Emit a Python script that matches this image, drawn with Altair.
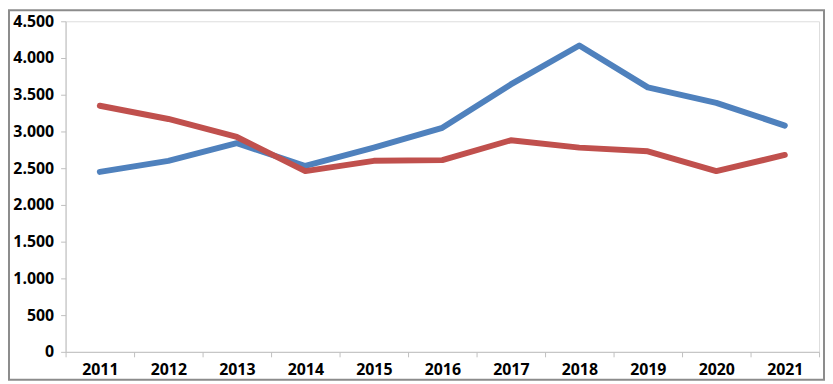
import altair as alt
import pandas as pd

years = ["2011", "2012", "2013", "2014", "2015", "2016", "2017", "2018", "2019", "2020", "2021"]
blue_values = [2450, 2600, 2840, 2530, 2780, 3050, 3640, 4170, 3600, 3390, 3080]
red_values = [3350, 3170, 2925, 2460, 2600, 2610, 2880, 2780, 2730, 2460, 2680]
series_names = ["Serie 1", "Serie 2"]
series_colors = ["#4F81BD", "#C0504D"]

rows = []
for name, vals in zip(series_names, [blue_values, red_values]):
    for y, v in zip(years, vals):
        rows.append({"year": y, "value": v, "series": name, "order": series_names.index(name)})
df = pd.DataFrame(rows)

W, H = 759, 333
PAD_L, PAD_T, PAD_R, PAD_B = 58, 12, 6, 29

lines = alt.Chart(df).mark_line(strokeWidth=6, strokeCap="round", strokeJoin="round").encode(
    x=alt.X("year:O", sort=years, title=None,
            scale=alt.Scale(type="band", paddingInner=0, paddingOuter=0),
            axis=alt.Axis(labelAngle=0, tickBand="extent", tickSize=5, tickColor="#BFBFBF",
                          domainColor="#BFBFBF", labelFont="Open Sans", labelFontWeight="bold",
                          labelFontSize=16, labelColor="#000000", labelPadding=5)),
    y=alt.Y("value:Q", title=None,
            scale=alt.Scale(domain=[0, 4500], nice=False),
            axis=alt.Axis(values=list(range(0, 4501, 500)), grid=False, tickSize=5,
                          tickColor="#BFBFBF", domainColor="#BFBFBF",
                          labelExpr="replace(format(datum.value, ','), ',', '.')",
                          labelFont="Open Sans", labelFontWeight="bold", labelFontSize=16,
                          labelColor="#000000", labelPadding=7)),
    color=alt.Color("series:N", scale=alt.Scale(domain=series_names, range=series_colors), legend=None),
    order=alt.Order("order:Q"),
)

frame = alt.Chart(pd.DataFrame({"a": [0]})).mark_rect(
    fill=None, stroke="#8C8C8C", strokeWidth=2
).encode(
    x=alt.value(-PAD_L + 1), x2=alt.value(W + PAD_R - 1),
    y=alt.value(-PAD_T + 1), y2=alt.value(H + PAD_B - 1),
)

chart = alt.layer(frame, lines).properties(
    width=W, height=H,
    autosize=alt.AutoSizeParams(type="none"),
    padding={"left": PAD_L, "top": PAD_T, "right": PAD_R, "bottom": PAD_B},
).configure_view(stroke=None).configure(background="white")

chart.save("out.html", embed_options={"renderer": "svg", "actions": False})
